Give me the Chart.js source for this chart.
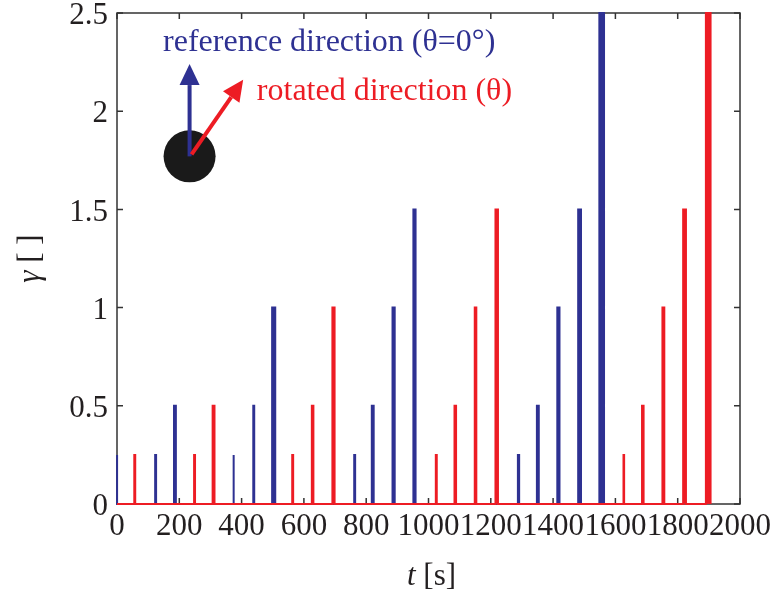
<!DOCTYPE html>
<html>
<head>
<meta charset="utf-8">
<script src="https://cdn.jsdelivr.net/npm/chart.js@4.4.0/dist/chart.umd.min.js"></script>
<style>
  html, body { margin: 0; padding: 0; background: #fff; }
  #wrap { width: 772px; height: 597px; }
</style>
</head>
<body>
<div id="wrap"><canvas id="myCanvas"></canvas></div>
<script>
// spike centre times [s], heights and durations [s]
const blueTimes = [0, 124, 186, 374, 439, 503, 763, 821, 888, 955, 1289, 1351, 1417, 1485, 1556];
const blueLevels = [0.25, 0.25, 0.5, 0.25, 0.5, 1, 0.25, 0.5, 1, 1.5, 0.25, 0.5, 1, 1.5, 2.5];
const blueDurations = [1, 3, 6, 3, 3, 10, 3, 6, 7, 7, 4, 6, 7, 9, 15];

const redTimes = [57, 249, 310, 564, 628, 695, 1025, 1086, 1151, 1219, 1627, 1688, 1754, 1822, 1898];
const redLevels = [0.25, 0.25, 0.5, 0.25, 0.5, 1, 0.25, 0.5, 1, 1.5, 0.25, 0.5, 1, 1.5, 2.5];
const redDurations = [3, 3, 6, 3, 5, 7, 3, 5, 5, 8, 2, 5, 6, 9, 15];

const xTicks = [0, 200, 400, 600, 800, 1000, 1200, 1400, 1600, 1800, 2000];
const yTicks = [0, 0.5, 1, 1.5, 2, 2.5];

const BLUE = '#2e3192';
const RED = '#ed1c24';
const INK = '#231f20';
const SERIF = '"Liberation Serif", "DejaVu Serif", serif';

// turn spikes into a pulse train starting at t = 0
function pulses(times, levels, durs)
{
    var pts = [{x: 0, y: 0}];
    for (var i = 0; i < times.length; i++) {
        var a = Math.max(0, times[i] - durs[i] / 2);
        var b = times[i] + durs[i] / 2;
        pts.push({x: a, y: 0}, {x: a, y: levels[i]}, {x: b, y: levels[i]}, {x: b, y: 0});
    }
    return pts;
}

function arrow(ctx, x0, y0, x1, y1, color)
{
    var ang = Math.atan2(y1 - y0, x1 - x0);
    var len = 21, half = 10;
    var bx = x1 - len * Math.cos(ang), by = y1 - len * Math.sin(ang);
    ctx.strokeStyle = color;
    ctx.fillStyle = color;
    ctx.lineWidth = 4;
    ctx.beginPath();
    ctx.moveTo(x0, y0);
    ctx.lineTo(bx, by);
    ctx.stroke();
    ctx.beginPath();
    ctx.moveTo(x1, y1);
    ctx.lineTo(bx + half * Math.sin(ang), by - half * Math.cos(ang));
    ctx.lineTo(bx - half * Math.sin(ang), by + half * Math.cos(ang));
    ctx.closePath();
    ctx.fill();
}

const framePlugin = {
    id: 'frame',
    beforeDatasetsDraw(chart) {
        // box and inward ticks, drawn under the data
        const ctx = chart.ctx;
        const a = chart.chartArea;
        const xs = chart.scales.x, ys = chart.scales.y;
        ctx.save();
        ctx.strokeStyle = '#333';
        ctx.lineWidth = 1.5;
        ctx.strokeRect(a.left, a.top, a.right - a.left, a.bottom - a.top);
        ctx.beginPath();
        xTicks.forEach(function (t) {
            var px = xs.getPixelForValue(t);
            ctx.moveTo(px, a.bottom); ctx.lineTo(px, a.bottom - 6);
            ctx.moveTo(px, a.top); ctx.lineTo(px, a.top + 6);
        });
        yTicks.forEach(function (v) {
            var py = ys.getPixelForValue(v);
            ctx.moveTo(a.left, py); ctx.lineTo(a.left + 6, py);
            ctx.moveTo(a.right, py); ctx.lineTo(a.right - 6, py);
        });
        ctx.stroke();
        ctx.restore();
    },
    afterDraw(chart) {
        const ctx = chart.ctx;
        const a = chart.chartArea;
        const xs = chart.scales.x, ys = chart.scales.y;
        ctx.save();

        // axis titles with italic symbols
        ctx.fillStyle = INK;
        ctx.textBaseline = 'middle';
        ctx.font = 'italic 31px ' + SERIF;
        var w1 = ctx.measureText('t').width;
        ctx.font = '31px ' + SERIF;
        var w2 = ctx.measureText(' [s]').width;
        var cx = (a.left + a.right) / 2 - (w1 + w2) / 2 + 3;
        ctx.textAlign = 'left';
        ctx.font = 'italic 31px ' + SERIF;
        ctx.fillText('t', cx, 577);
        ctx.font = '31px ' + SERIF;
        ctx.fillText(' [s]', cx + w1, 577);

        ctx.save();
        ctx.translate(31, (a.top + a.bottom) / 2);
        ctx.rotate(-Math.PI / 2);
        ctx.font = 'italic 31px ' + SERIF;
        var g1 = ctx.measureText('\u03b3').width;
        ctx.font = '31px ' + SERIF;
        var g2 = ctx.measureText(' [ ]').width;
        ctx.font = 'italic 31px ' + SERIF;
        ctx.fillText('\u03b3', -(g1 + g2) / 2, 0);
        ctx.font = '31px ' + SERIF;
        ctx.fillText(' [ ]', -(g1 + g2) / 2 + g1, 0);
        ctx.restore();

        // inset sketch: particle with the two directions
        var ox = xs.getPixelForValue(233), oy = ys.getPixelForValue(1.77);
        ctx.fillStyle = '#1a1a1a';
        ctx.beginPath();
        ctx.arc(ox, oy, 26, 0, Math.PI * 2);
        ctx.fill();
        arrow(ctx, ox, oy, ox, ys.getPixelForValue(2.24), BLUE);
        arrow(ctx, ox + 2, oy - 2, xs.getPixelForValue(405), ys.getPixelForValue(2.16), RED);

        ctx.font = '32px ' + SERIF;
        ctx.textAlign = 'left';
        ctx.fillStyle = BLUE;
        ctx.fillText('reference direction (\u03b8=0\u00b0)', xs.getPixelForValue(148), ys.getPixelForValue(2.35));
        ctx.fillStyle = RED;
        ctx.fillText('rotated direction (\u03b8)', xs.getPixelForValue(449), ys.getPixelForValue(2.1));
        ctx.restore();
    }
};

var c = document.getElementById('myCanvas');
var ctx = c.getContext('2d');
var myChart = new Chart(ctx, {
    type: 'line',
    data: {
        datasets: [
            {
                label: 'rotated direction',
                data: pulses(redTimes, redLevels, redDurations),
                borderColor: RED,
                backgroundColor: RED,
                fill: 'origin',
                borderWidth: 2,
                pointRadius: 0,
                tension: 0,
                clip: 4,
                order: 0
            },
            {
                label: 'reference direction',
                data: pulses(blueTimes, blueLevels, blueDurations),
                borderColor: BLUE,
                backgroundColor: BLUE,
                fill: 'origin',
                borderWidth: 2,
                pointRadius: 0,
                tension: 0,
                clip: 4,
                order: 1
            }
        ]
    },
    options: {
        responsive: true,
        maintainAspectRatio: false,
        animation: false,
        layout: { padding: { top: 13, right: 32, left: 0, bottom: 0 } },
        plugins: { legend: { display: false }, tooltip: { enabled: false } },
        scales: {
            x: {
                type: 'linear',
                min: 0,
                max: 2000,
                afterBuildTicks: function (s) { s.ticks = xTicks.map(function (v) { return {value: v}; }); },
                afterFit: function (s) { s.height = 93; s.paddingLeft = 0; s.paddingRight = 0; },
                grid: { display: false, drawTicks: false, tickLength: 0 },
                border: { display: false },
                ticks: {
                    autoSkip: false,
                    maxRotation: 0,
                    padding: 4,
                    color: INK,
                    font: { family: SERIF, size: 31 },
                    callback: function (v) { return String(v); }
                }
            },
            y: {
                min: 0,
                max: 2.5,
                afterBuildTicks: function (s) { s.ticks = yTicks.map(function (v) { return {value: v}; }); },
                afterFit: function (s) { s.width = 117; s.paddingTop = 0; s.paddingBottom = 0; },
                grid: { display: false, drawTicks: false, tickLength: 0 },
                border: { display: false },
                ticks: {
                    padding: 9,
                    labelOffset: 3,
                    color: INK,
                    font: { family: SERIF, size: 31 },
                    callback: function (v) { return String(v); }
                }
            }
        }
    },
    plugins: [framePlugin]
});
</script>
</body>
</html>
